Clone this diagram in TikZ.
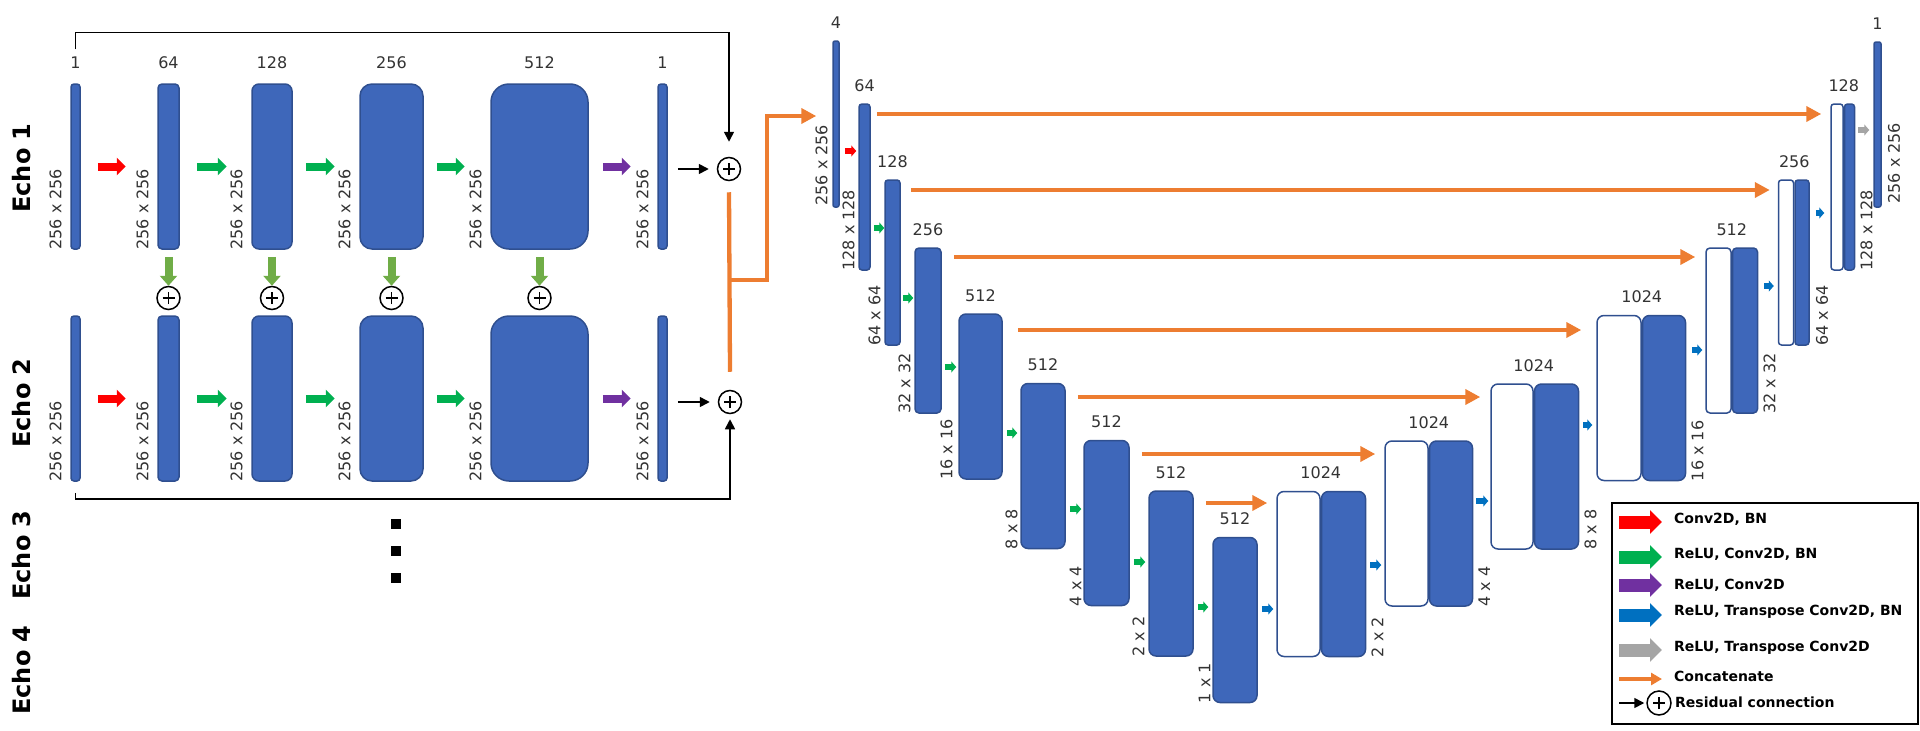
\documentclass[tikz,border=0pt]{standalone}
\usepackage{fontspec}
\setmainfont{DejaVu Sans}
\usetikzlibrary{arrows.meta}
\usetikzlibrary{positioning}
\definecolor{blockfill}{HTML}{3E67BA}
\definecolor{blockline}{HTML}{2F4F8F}
\definecolor{labelgray}{HTML}{333333}
\definecolor{cred}{HTML}{FF0000}
\definecolor{cgreen}{HTML}{00B050}
\definecolor{cpurple}{HTML}{7030A0}
\definecolor{cblue}{HTML}{0070C0}
\definecolor{cgray}{HTML}{A5A5A5}
\definecolor{corange}{HTML}{ED7D31}
\definecolor{colive}{HTML}{70AD47}

\begin{document}
\begin{tikzpicture}[x=1pt,y=-1pt,
    block node/.style={rectangle,draw=blockline,fill=blockfill,line width=1.5pt,minimum height=165pt,inner sep=0pt,rounded corners=3pt},
    white node/.style={block node,fill=white},
    num label/.style={font=\fontsize{16}{18}\selectfont,text=labelgray,inner sep=0pt,anchor=base},
    dim label/.style={num label,rotate=90},
    echo label/.style={font=\fontsize{24}{28}\selectfont\bfseries,rotate=90,inner sep=0pt},
    sum node/.style={circle,draw,line width=1.5pt,minimum size=23pt,inner sep=0pt,
      path picture={\draw[line width=1.3pt] ([xshift=-6pt]path picture bounding box.center) -- ([xshift=6pt]path picture bounding box.center)
        ([yshift=-6pt]path picture bounding box.center) -- ([yshift=6pt]path picture bounding box.center);}},
    fat arrow/.style={line width=8pt,-{Triangle[length=9pt,width=17pt]}},
    down arrow/.style={line width=8pt,color=colive,-{Triangle[length=10pt,width=17pt]}},
    small arrow/.style={line width=6pt,-{Triangle[length=5pt,width=11pt]}},
    concat/.style={draw=corange,line width=4.3pt},
    concat arrow/.style={concat,color=corange,-{Triangle[length=15pt,width=15pt]}},
    res arrow/.style={line width=1.6pt,-{Triangle[length=10pt,width=10pt]}},
    legend arrow/.style={line width=13pt,-{Triangle[length=12pt,width=23pt]}},
    legend text/.style={font=\fontsize{14}{17}\selectfont\bfseries,anchor=west,inner sep=0pt}]
  \useasboundingbox (0,0) rectangle (1920,731);

  % echo 1
  \begin{scope}
    \node[echo label] (echo1) at (22,168) {Echo 1};
    \node[block node,minimum width=9pt] (a0) at (75.5,166.5) {};
    \node[block node,minimum width=21pt,rounded corners=4pt] (a1) at (168.5,166.5) {};
    \node[block node,minimum width=40pt,rounded corners=7pt] (a2) at (272,166.5) {};
    \node[block node,minimum width=63pt,rounded corners=12pt] (a3) at (391.5,166.5) {};
    \node[block node,minimum width=97pt,rounded corners=18pt] (a4) at (539.5,166.5) {};
    \node[block node,minimum width=9pt] (a5) at (662.5,166.5) {};
    \node[num label] (na0) at ([yshift=15pt]a0.north) {1};
    \node[num label] (na1) at ([yshift=15pt]a1.north) {64};
    \node[num label] (na2) at ([yshift=15pt]a2.north) {128};
    \node[num label] (na3) at ([yshift=15pt]a3.north) {256};
    \node[num label] (na4) at ([yshift=15pt]a4.north) {512};
    \node[num label] (na5) at ([yshift=15pt]a5.north) {1};
    \node[dim label,anchor=base west] (la0) at ([xshift=-9pt]a0.south west) {256 x 256};
    \node[dim label,anchor=base west] (la1) at ([xshift=-9pt]a1.south west) {256 x 256};
    \node[dim label,anchor=base west] (la2) at ([xshift=-9pt]a2.south west) {256 x 256};
    \node[dim label,anchor=base west] (la3) at ([xshift=-9pt]a3.south west) {256 x 256};
    \node[dim label,anchor=base west] (la4) at ([xshift=-9pt]a4.south west) {256 x 256};
    \node[dim label,anchor=base west] (la5) at ([xshift=-9pt]a5.south west) {256 x 256};
    \draw[fat arrow,color=cred] ([xshift=17pt]a0.east) -- ++(28,0);
    \draw[fat arrow,color=cgreen] ([xshift=17pt]a1.east) -- ++(30,0);
    \draw[fat arrow,color=cgreen] ([xshift=13pt]a2.east) -- ++(29,0);
    \draw[fat arrow,color=cgreen] ([xshift=13pt]a3.east) -- ++(28,0);
    \draw[fat arrow,color=cpurple] ([xshift=14pt]a4.east) -- ++(28,0);
    \node[sum node] (s1) at (729,169) {};
    \draw[res arrow] ([xshift=10pt]s1.west -| a5.east) -- ([xshift=-8pt]s1.west);
    \draw[res arrow] ([yshift=7pt]na0.north) -- ++(0,-17) -| ([yshift=15pt]s1.north);
    % skip sums between the echoes
    \node[sum node] (p1) at (a1 |- 0,298) {};
    \node[sum node] (p2) at (a2 |- 0,298) {};
    \node[sum node] (p3) at (a3 |- 0,298) {};
    \node[sum node] (p4) at (a4 |- 0,298) {};
    \draw[down arrow] ([yshift=-7pt]a1.south) -- (p1.north);
    \draw[down arrow] ([yshift=-7pt]a2.south) -- (p2.north);
    \draw[down arrow] ([yshift=-7pt]a3.south) -- (p3.north);
    \draw[down arrow] ([yshift=-7pt]a4.south) -- (p4.north);
  \end{scope}

  % echo 2
  \begin{scope}
    \node[echo label] (echo2) at (22,403) {Echo 2};
    \node[block node,minimum width=9pt] (b0) at (75.5,398.5) {};
    \node[block node,minimum width=21pt,rounded corners=4pt] (b1) at (168.5,398.5) {};
    \node[block node,minimum width=40pt,rounded corners=7pt] (b2) at (272,398.5) {};
    \node[block node,minimum width=63pt,rounded corners=12pt] (b3) at (391.5,398.5) {};
    \node[block node,minimum width=97pt,rounded corners=18pt] (b4) at (539.5,398.5) {};
    \node[block node,minimum width=9pt] (b5) at (662.5,398.5) {};
    \node[dim label,anchor=base west] (lb0) at ([xshift=-9pt]b0.south west) {256 x 256};
    \node[dim label,anchor=base west] (lb1) at ([xshift=-9pt]b1.south west) {256 x 256};
    \node[dim label,anchor=base west] (lb2) at ([xshift=-9pt]b2.south west) {256 x 256};
    \node[dim label,anchor=base west] (lb3) at ([xshift=-9pt]b3.south west) {256 x 256};
    \node[dim label,anchor=base west] (lb4) at ([xshift=-9pt]b4.south west) {256 x 256};
    \node[dim label,anchor=base west] (lb5) at ([xshift=-9pt]b5.south west) {256 x 256};
    \draw[fat arrow,color=cred] ([xshift=17pt]b0.east) -- ++(28,0);
    \draw[fat arrow,color=cgreen] ([xshift=17pt]b1.east) -- ++(30,0);
    \draw[fat arrow,color=cgreen] ([xshift=13pt]b2.east) -- ++(29,0);
    \draw[fat arrow,color=cgreen] ([xshift=13pt]b3.east) -- ++(28,0);
    \draw[fat arrow,color=cpurple] ([xshift=14pt]b4.east) -- ++(28,0);
    \node[sum node] (s2) at (730,402) {};
    \draw[res arrow] ([xshift=10pt]s2.west -| b5.east) -- ([xshift=-8pt]s2.west);
    \draw[res arrow] ([yshift=-11pt]b0.south) -- ++(0,6) -| ([yshift=-5pt]s2.south);
  \end{scope}

  % echo 3 and 4
  \node[echo label] (echo3) at (22,555) {Echo 3};
  \node[echo label] (echo4) at (22,670) {Echo 4};
  \node[fill,minimum size=10pt,inner sep=0pt] (dot1) at (396,524) {};
  \node[fill,minimum size=10pt,inner sep=0pt] (dot2) at (396,551) {};
  \node[fill,minimum size=10pt,inner sep=0pt] (dot3) at (396,578) {};

  % echoes into the u-net
  \coordinate (jn) at (s1 |- 0,280);
  \draw[concat] ([yshift=-11pt]s1.south) -- ([yshift=18pt]s2.north);

  % u-net encoder
  \begin{scope}
    \node[block node,minimum width=6pt,minimum height=166pt,rounded corners=2pt] (u0) at (836,124) {};
    \node[block node,minimum width=11pt,minimum height=166pt] (u1) at (864.5,187) {};
    \node[block node,minimum width=15pt] (u2) at (892.5,262.5) {};
    \node[block node,minimum width=26pt,rounded corners=4pt] (u3) at (928,330.5) {};
    \node[block node,minimum width=43pt,rounded corners=7pt] (u4) at (980.5,396.5) {};
    \node[block node,minimum width=44pt,rounded corners=7pt] (u5) at (1043,466) {};
    \node[block node,minimum width=45pt,rounded corners=7pt] (u6) at (1106.5,523) {};
    \node[block node,minimum width=44pt,rounded corners=7pt] (u7) at (1171,573.5) {};
    \node[block node,minimum width=44pt,rounded corners=7pt] (u8) at (1235,620) {};
    \node[num label] (nu0) at ([yshift=12pt]u0.north) {4};
    \node[num label] (nu1) at ([yshift=12pt]u1.north) {64};
    \node[num label] (nu2) at ([yshift=12pt]u2.north) {128};
    \node[num label] (nu3) at ([yshift=12pt]u3.north) {256};
    \node[num label] (nu4) at ([yshift=12pt]u4.north) {512};
    \node[num label] (nu5) at ([yshift=12pt]u5.north) {512};
    \node[num label] (nu6) at ([yshift=12pt]u6.north) {512};
    \node[num label] (nu7) at ([yshift=12pt]u7.north) {512};
    \node[num label] (nu8) at ([yshift=12pt]u8.north) {512};
    \node[dim label,anchor=base west] (lu0) at ([xshift=-5pt,yshift=2pt]u0.south west) {256 x 256};
    \node[dim label,anchor=base west] (lu1) at ([xshift=-4pt]u1.south west) {128 x 128};
    \node[dim label,anchor=base west] (lu2) at ([xshift=-4pt]u2.south west) {64 x 64};
    \node[dim label,anchor=base west] (lu3) at ([xshift=-4pt]u3.south west) {32 x 32};
    \node[dim label,anchor=base west] (lu4) at ([xshift=-6pt]u4.south west) {16 x 16};
    \node[dim label,anchor=base west] (lu5) at ([xshift=-3pt]u5.south west) {8 x 8};
    \node[dim label,anchor=base west] (lu6) at ([xshift=-2pt]u6.south west) {4 x 4};
    \node[dim label,anchor=base west] (lu7) at ([xshift=-4pt]u7.south west) {2 x 2};
    \node[dim label,anchor=base west] (lu8) at ([xshift=-2pt]u8.south west) {1 x 1};
    \draw[concat arrow] (jn) -- ++(38,0) |- ([xshift=-16pt]u0.west |- 0,116);
    \draw[small arrow,color=cred] ([xshift=5pt]u0.east |- 0,151) -- ([xshift=-2pt]u1.west |- 0,151);
    \draw[small arrow,color=cgreen] ([xshift=3pt]u1.east |- 0,228) -- (u2.west |- 0,228);
    \draw[small arrow,color=cgreen] ([xshift=2pt]u2.east |- 0,298) -- ([xshift=-1pt]u3.west |- 0,298);
    \draw[small arrow,color=cgreen] ([xshift=3pt]u3.east |- 0,367) -- ([xshift=-2pt]u4.west |- 0,367);
    \draw[small arrow,color=cgreen] ([xshift=4pt]u4.east |- 0,433) -- ([xshift=-3pt]u5.west |- 0,433);
    \draw[small arrow,color=cgreen] ([xshift=4pt]u5.east |- 0,509) -- ([xshift=-2pt]u6.west |- 0,509);
    \draw[small arrow,color=cgreen] ([xshift=4pt]u6.east |- 0,562) -- ([xshift=-3pt]u7.west |- 0,562);
    \draw[small arrow,color=cgreen] ([xshift=4pt]u7.east |- 0,607) -- ([xshift=-4pt]u8.west |- 0,607);
  \end{scope}

  % u-net decoder
  \begin{scope}
    \node[white node,minimum width=43pt,rounded corners=7pt] (d7w) at (1298.5,574) {};
    \node[block node,minimum width=44pt,rounded corners=7pt,right=0pt of d7w] (d7b) {};
    \node[white node,minimum width=43pt,rounded corners=7pt] (d6w) at (1406.5,523.5) {};
    \node[block node,minimum width=43pt,rounded corners=7pt,right=0pt of d6w] (d6b) {};
    \node[white node,minimum width=42pt,rounded corners=7pt] (d5w) at (1512,466.5) {};
    \node[block node,minimum width=44pt,rounded corners=7pt,right=0pt of d5w] (d5b) {};
    \node[white node,minimum width=44pt,rounded corners=7pt] (d4w) at (1619,398) {};
    \node[block node,minimum width=43pt,rounded corners=7pt,right=0pt of d4w] (d4b) {};
    \node[white node,minimum width=25pt,rounded corners=4pt] (d3w) at (1718.5,330.5) {};
    \node[block node,minimum width=25pt,rounded corners=4pt,right=0pt of d3w] (d3b) {};
    \node[white node,minimum width=15pt] (d2w) at (1786,262.5) {};
    \node[block node,minimum width=14pt,right=0pt of d2w] (d2b) {};
    \node[white node,minimum width=12pt,minimum height=166pt] (d1w) at (1837,187) {};
    \node[block node,minimum width=10pt,minimum height=166pt,right=0pt of d1w] (d1b) {};
    \node[block node,minimum width=7pt,rounded corners=2pt] (out) at (1877.5,124.5) {};
    \node[num label] (nd7) at ([yshift=12pt]d7w.north east) {1024};
    \node[num label] (nd6) at ([yshift=12pt]d6w.north east) {1024};
    \node[num label] (nd5) at ([yshift=12pt]d5w.north east) {1024};
    \node[num label] (nd4) at ([yshift=12pt]d4w.north east) {1024};
    \node[num label] (nd3) at ([yshift=12pt]d3w.north east) {512};
    \node[num label] (nd2) at ([yshift=12pt]d2w.north east) {256};
    \node[num label] (nd1) at ([yshift=12pt]d1w.north east) {128};
    \node[num label] (nout) at ([yshift=12pt]out.north) {1};
    \node[dim label,anchor=north west] (ld7) at ([xshift=5pt]d7b.south east) {2 x 2};
    \node[dim label,anchor=north west] (ld6) at ([xshift=5pt]d6b.south east) {4 x 4};
    \node[dim label,anchor=north west] (ld5) at ([xshift=5pt]d5b.south east) {8 x 8};
    \node[dim label,anchor=north west] (ld4) at ([xshift=5pt]d4b.south east) {16 x 16};
    \node[dim label,anchor=north west] (ld3) at ([xshift=5pt]d3b.south east) {32 x 32};
    \node[dim label,anchor=north west] (ld2) at ([xshift=6pt]d2b.south east) {64 x 64};
    \node[dim label,anchor=north west] (ld1) at ([xshift=5pt]d1b.south east) {128 x 128};
    \node[dim label,anchor=north west] (lout) at ([xshift=6pt,yshift=4pt]out.south east) {256 x 256};
    \draw[small arrow,color=cblue] ([xshift=4pt]u8.east |- 0,609) -- ([xshift=-3pt]d7w.west |- 0,609);
    \draw[small arrow,color=cblue] ([xshift=4pt]d7b.east |- 0,565) -- ([xshift=-3pt]d6w.west |- 0,565);
    \draw[small arrow,color=cblue] ([xshift=3pt]d6b.east |- 0,501) -- ([xshift=-2pt]d5w.west |- 0,501);
    \draw[small arrow,color=cblue] ([xshift=4pt]d5b.east |- 0,425) -- ([xshift=-4pt]d4w.west |- 0,425);
    \draw[small arrow,color=cblue] ([xshift=6pt]d4b.east |- 0,350) -- ([xshift=-3pt]d3w.west |- 0,350);
    \draw[small arrow,color=cblue] ([xshift=6pt]d3b.east |- 0,286) -- ([xshift=-4pt]d2w.west |- 0,286);
    \draw[small arrow,color=cblue] ([xshift=6pt]d2b.east |- 0,213) -- ([xshift=-6pt]d1w.west |- 0,213);
    \draw[small arrow,color=cgray] ([xshift=3pt]d1b.east |- 0,130) -- ([xshift=-4pt]out.west |- 0,130);
  \end{scope}

  % skip connections
  \draw[concat arrow] ([xshift=6pt]u1.east |- 0,114) -- ([xshift=-9pt]d1w.west |- 0,114);
  \draw[concat arrow] ([xshift=10pt]u2.east |- 0,190) -- ([xshift=-8pt]d2w.west |- 0,190);
  \draw[concat arrow] ([xshift=12pt]u3.east |- 0,257) -- ([xshift=-10pt]d3w.west |- 0,257);
  \draw[concat arrow] ([xshift=15pt]u4.east |- 0,330) -- ([xshift=-15pt]d4w.west |- 0,330);
  \draw[concat arrow] ([xshift=12pt]u5.east |- 0,397) -- ([xshift=-10pt]d5w.west |- 0,397);
  \draw[concat arrow] ([xshift=12pt]u6.east |- 0,454) -- ([xshift=-9pt]d6w.west |- 0,454);
  \draw[concat arrow] ([xshift=12pt]u7.east |- 0,503) -- ([xshift=-9pt]d7w.west |- 0,503);

  % legend
  \begin{scope}
    \node[draw,line width=2.5pt,minimum width=306pt,minimum height=221pt,inner sep=0pt] (legend) at (1765,613.5) {};
    \draw[legend arrow,color=cred] (1619,522) -- (1662,522);
    \node[legend text] (t1) at (1674,519) {Conv2D, BN};
    \draw[legend arrow,color=cgreen] (1619,557) -- (1662,557);
    \node[legend text] (t2) at (1674,554) {ReLU, Conv2D, BN};
    \draw[legend arrow,color=cpurple] (1619,585) -- (1662,585);
    \node[legend text] (t3) at (1674,585) {ReLU, Conv2D};
    \draw[legend arrow,color=cblue] (1619,615) -- (1662,615);
    \node[legend text] (t4) at (1674,612) {ReLU, Transpose Conv2D, BN};
    \draw[legend arrow,color=cgray] (1619,650) -- (1662,650);
    \node[legend text] (t5) at (1674,648) {ReLU, Transpose Conv2D};
    \draw[concat arrow,line width=4.7pt,-{Triangle[length=11pt,width=12pt]}] (1619,679) -- (1662,679);
    \node[legend text] (t6) at (1674,676) {Concatenate};
    \node[sum node,minimum size=24pt] (ls) at (1659,703) {};
    \draw[res arrow] (1619,703) -- ([xshift=-2pt]ls.west);
    \node[legend text] (t7) at (1675,702) {Residual connection};
  \end{scope}
\end{tikzpicture}
\end{document}
